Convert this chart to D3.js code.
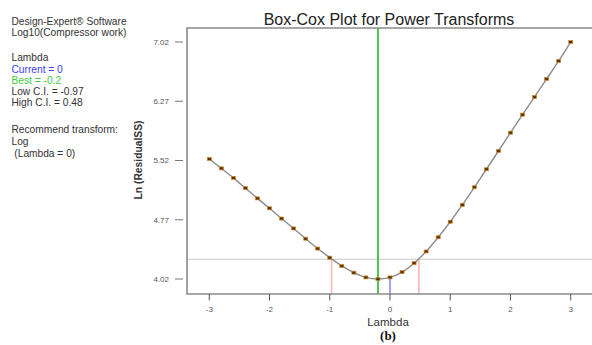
<!DOCTYPE html>
<html>
<head>
<meta charset="utf-8">
<script src="https://cdn.jsdelivr.net/npm/d3@7"></script>
<style>
  body { margin: 0; background: #fff; }
  svg { display: block; font-family: "Liberation Sans", Arial, sans-serif; }
</style>
</head>
<body>
<svg id="chart" width="592" height="345"></svg>
<script>
// Box-Cox curve values
const lambdas = [-3.0, -2.8, -2.6, -2.4, -2.2, -2.0, -1.8, -1.6, -1.4, -1.2, -1.0,
                 -0.8, -0.6, -0.4, -0.2, 0.0, 0.2, 0.4, 0.6, 0.8, 1.0,
                 1.2, 1.4, 1.6, 1.8, 2.0, 2.2, 2.4, 2.6, 2.8, 3.0];
const lnResidualSS = [5.54, 5.42, 5.30, 5.17, 5.04, 4.915, 4.785, 4.66, 4.53, 4.405, 4.29,
                      4.185, 4.10, 4.04, 4.02, 4.04, 4.107, 4.22, 4.368, 4.548, 4.745,
                      4.958, 5.181, 5.409, 5.64, 5.872, 6.10, 6.324, 6.552, 6.78, 7.02];

const xTicks = [-3, -2, -1, 0, 1, 2, 3];
const yTicks = [4.02, 4.77, 5.52, 6.27, 7.02];

const currentLambda = 0;
const bestLambda = -0.2;
const lowCI = -0.97;
const highCI = 0.48;
const ciLevel = 4.27;

const infoLines = [
  "Design-Expert® Software",
  "Log10(Compressor work)",
  "Lambda",
  "Current = 0",
  "Best = -0.2",
  "Low C.I. = -0.97",
  "High C.I. = 0.48",
  "Recommend transform:",
  "Log",
  " (Lambda = 0)"
];

const svg = d3.select("#chart");

// plot area
const pLeft = 187, pRight = 593, pTop = 28, pBottom = 294;

const x = d3.scaleLinear().domain([-3.37, 3.37]).range([pLeft, pRight]);
const y = d3.scaleLinear().domain([3.83, 7.197]).range([pBottom, pTop]);

// info text on the left
const infoY = [24.5, 35.5, 61, 72.5, 83.5, 94.5, 105.5, 132.8, 144.5, 156.8];
svg.append("g")
  .selectAll("text")
  .data(infoLines)
  .enter()
  .append("text")
  .attr("x", 11.5)
  .attr("y", (d, i) => infoY[i])
  .attr("font-size", 10.2)
  .style("white-space", "pre")
  .attr("fill", (d, i) => i === 3 ? "#3b3bff" : i === 4 ? "#3ccc3c" : "#333")
  .text(d => d);

// title
svg.append("text")
  .attr("x", 389)
  .attr("y", 25)
  .attr("text-anchor", "middle")
  .attr("font-size", 16)
  .attr("fill", "#222")
  .text("Box-Cox Plot for Power Transforms");

// CI horizontal line
svg.append("line")
  .attr("x1", pLeft).attr("x2", pRight)
  .attr("y1", y(ciLevel)).attr("y2", y(ciLevel))
  .attr("stroke", "#c8c8c8").attr("stroke-width", 1);

// pink CI verticals
[lowCI, highCI].forEach(l => {
  svg.append("line")
    .attr("x1", x(l)).attr("x2", x(l))
    .attr("y1", y(ciLevel)).attr("y2", pBottom)
    .attr("stroke", "#ffb3b3").attr("stroke-width", 1.5);
});

// current lambda (blue)
const curIdx = lambdas.indexOf(currentLambda);
svg.append("line")
  .attr("x1", x(currentLambda)).attr("x2", x(currentLambda))
  .attr("y1", y(lnResidualSS[curIdx])).attr("y2", pBottom)
  .attr("stroke", "#7070ff").attr("stroke-width", 1.3);

// best lambda (green)
svg.append("line")
  .attr("x1", x(bestLambda)).attr("x2", x(bestLambda))
  .attr("y1", pTop).attr("y2", pBottom)
  .attr("stroke", "#4cc24c").attr("stroke-width", 2);

// frame: top, left, bottom
svg.append("path")
  .attr("d", `M${pRight},${pTop}H${pLeft}V${pBottom}H${pRight}`)
  .attr("fill", "none")
  .attr("stroke", "#8a8a8a")
  .attr("stroke-width", 1.6);

// y ticks (detached from axis)
const yt = svg.append("g");
yt.selectAll("line")
  .data(yTicks)
  .enter()
  .append("line")
  .attr("x1", 175).attr("x2", 183)
  .attr("y1", d => y(d)).attr("y2", d => y(d))
  .attr("stroke", "#777").attr("stroke-width", 1);
yt.selectAll("text")
  .data(yTicks)
  .enter()
  .append("text")
  .attr("x", 169)
  .attr("y", d => y(d) + 3)
  .attr("text-anchor", "end")
  .attr("font-size", 8)
  .attr("fill", "#555")
  .text(d => d.toFixed(2));

// x ticks
const xt = svg.append("g");
xt.selectAll("line")
  .data(xTicks)
  .enter()
  .append("line")
  .attr("x1", d => x(d)).attr("x2", d => x(d))
  .attr("y1", pBottom).attr("y2", pBottom + 6.5)
  .attr("stroke", "#555").attr("stroke-width", 1);
xt.selectAll("text")
  .data(xTicks)
  .enter()
  .append("text")
  .attr("x", d => x(d))
  .attr("y", 312)
  .attr("text-anchor", "middle")
  .attr("font-size", 8)
  .attr("fill", "#555")
  .text(d => String(d));

// axis titles
svg.append("text")
  .attr("x", 388)
  .attr("y", 326)
  .attr("text-anchor", "middle")
  .attr("font-size", 11.5)
  .attr("fill", "#333")
  .text("Lambda");

svg.append("text")
  .attr("x", 388)
  .attr("y", 339.5)
  .attr("text-anchor", "middle")
  .attr("font-size", 13)
  .attr("font-weight", "bold")
  .attr("font-family", "'Liberation Serif', 'Times New Roman', serif")
  .attr("fill", "#111")
  .text("(b)");

svg.append("text")
  .attr("transform", "translate(142,160) rotate(-90)")
  .attr("text-anchor", "middle")
  .attr("font-size", 10.3)
  .attr("font-weight", "bold")
  .attr("fill", "#333")
  .text("Ln (ResidualSS)");

// curve
const pts = lambdas.map((l, i) => [l, lnResidualSS[i]]);
const line = d3.line()
  .x(d => x(d[0]))
  .y(d => y(d[1]))
  .curve(d3.curveMonotoneX);

svg.append("path")
  .datum(pts)
  .attr("d", line)
  .attr("fill", "none")
  .attr("stroke", "#8c8c8c")
  .attr("stroke-width", 1.4);

// markers
svg.append("g")
  .selectAll("rect")
  .data(pts)
  .enter()
  .append("rect")
  .attr("x", d => x(d[0]) - 2)
  .attr("y", d => y(d[1]) - 1.5)
  .attr("width", 4)
  .attr("height", 3)
  .attr("fill", "#5a3205")
  .attr("stroke", "#c98a2a")
  .attr("stroke-width", 0.7);
</script>
</body>
</html>
